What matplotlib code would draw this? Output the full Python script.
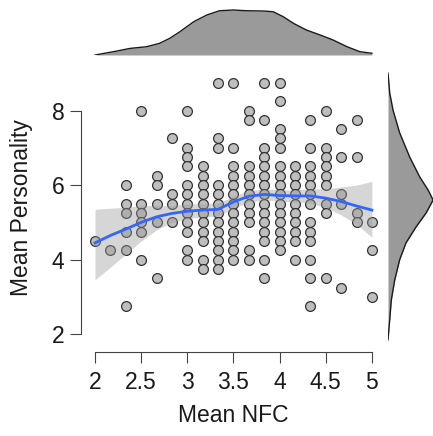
import numpy as np
import matplotlib.pyplot as plt

plt.rcParams['font.family'] = ['Liberation Sans', 'DejaVu Sans']

## NFC means come in sixths, personality means in quarters
nfc_levels = [2, 13/6, 7/3, 2.5, 8/3, 17/6, 3, 19/6, 10/3, 3.5,
              11/3, 23/6, 4, 25/6, 13/3, 4.5, 14/3, 29/6, 5]

personality_by_nfc = [
    [4.5],
    [4.25],
    [6.0, 5.5, 5.25, 4.75, 4.25, 2.75],
    [8.0, 5.5, 5.25, 5.0, 4.75, 4.0],
    [6.25, 6.0, 5.5, 5.0, 3.5],
    [7.25, 5.75, 5.5, 5.0],
    [8.0, 7.0, 6.75, 6.5, 6.0, 5.75, 5.5, 5.25, 5.0, 4.75, 4.25, 4.0],
    [6.5, 6.25, 6.0, 5.75, 5.5, 5.25, 5.0, 4.75, 4.5, 4.0, 3.75],
    [8.75, 7.25, 7.0, 6.0, 5.75, 5.5, 5.25, 5.0, 4.75, 4.5, 4.25, 4.0, 3.75],
    [8.75, 7.0, 6.5, 6.25, 6.0, 5.75, 5.5, 5.25, 5.0, 4.75, 4.5, 4.25, 4.0],
    [8.0, 7.75, 6.5, 6.25, 6.0, 5.75, 5.5, 5.25, 5.0, 4.25, 4.0],
    [8.75, 7.75, 7.0, 6.75, 6.5, 6.25, 6.0, 5.75, 5.5, 5.25, 5.0, 4.75, 4.5, 4.0, 3.5],
    [8.75, 8.25, 7.5, 7.25, 7.0, 6.5, 6.25, 6.0, 5.75, 5.5, 5.25, 5.0, 4.75, 4.5, 4.25],
    [6.5, 6.25, 6.0, 5.75, 5.5, 5.25, 5.0, 4.75, 4.5, 4.0],
    [7.75, 7.0, 6.5, 6.25, 6.0, 5.75, 5.5, 5.0, 4.75, 4.5, 4.0, 3.5, 2.75],
    [8.0, 7.0, 6.75, 6.5, 6.25, 6.0, 5.5, 5.25, 3.5],
    [7.5, 6.75, 5.75, 5.5, 3.25],
    [7.75, 6.75, 5.25, 5.0],
    [5.0, 4.25, 3.0],
]

## loess fit and its 95% band, read at each NFC level
smooth_fit = [4.45, 4.65, 4.82, 5.0, 5.15, 5.24, 5.3, 5.33, 5.35, 5.55,
              5.7, 5.75, 5.72, 5.71, 5.71, 5.65, 5.56, 5.44, 5.33]
smooth_lo = [3.46, 3.8, 4.15, 4.5, 4.8, 5.0, 5.1, 5.15, 5.17, 5.38,
             5.55, 5.6, 5.57, 5.55, 5.52, 5.4, 5.2, 4.95, 4.6]
smooth_hi = [5.35, 5.38, 5.4, 5.45, 5.45, 5.45, 5.5, 5.5, 5.52, 5.7,
             5.85, 5.9, 5.88, 5.87, 5.9, 5.9, 5.95, 6.0, 6.1]

## marginal densities
nfc_dens_x = [2.0, 2.2, 2.38, 2.56, 2.70, 2.81, 2.92, 3.07, 3.21, 3.35, 3.5,
              3.64, 3.82, 3.93, 4.04, 4.15, 4.29, 4.44, 4.58, 4.73, 4.87, 5.0]
nfc_dens = [0.0, 0.05, 0.10, 0.126, 0.177, 0.253, 0.353, 0.505, 0.606, 0.671, 0.682,
            0.671, 0.667, 0.656, 0.58, 0.48, 0.379, 0.303, 0.227, 0.126, 0.05, 0.026]
pers_dens_y = [9.0, 8.47, 8.01, 7.4, 6.75, 6.22, 5.87, 5.6, 5.25, 4.88,
               4.45, 4.0, 3.46, 2.92, 2.39, 1.85]
pers_dens = [0.0, 0.016, 0.047, 0.109, 0.203, 0.296, 0.374, 0.421, 0.355, 0.262,
             0.168, 0.109, 0.063, 0.031, 0.016, 0.0]

xticks = [2, 2.5, 3, 3.5, 4, 4.5, 5]
xticklabels = ['2', '2.5', '3', '3.5', '4', '4.5', '5']
yticks = [2, 4, 6, 8]

W, H = 433, 436
fig = plt.figure(figsize=(W / 100, H / 100), dpi=100)

def box(l, t, r, b):
    return [l / W, 1 - b / H, (r - l) / W, (b - t) / H]

xlim = (1.848, 5.142)
ylim = (1.525, 9.086)

ax = fig.add_axes(box(81, 70, 385, 352))
xs = [x for x, ys in zip(nfc_levels, personality_by_nfc) for _ in ys]
ys = [y for ys_ in personality_by_nfc for y in ys_]
ax.scatter(xs, ys, s=50, c='#bebebe', edgecolors='#333333', linewidths=0.9, zorder=2)
ax.fill_between(nfc_levels, smooth_lo, smooth_hi, color='#999999', alpha=0.4, lw=0, zorder=3)
ax.plot(nfc_levels, smooth_fit, color='#3366FF', lw=2.0, zorder=4)

ax.set_xlim(*xlim)
ax.set_ylim(*ylim)
for s in ['top', 'right']:
    ax.spines[s].set_visible(False)
ax.spines['left'].set_bounds(2, 8)
ax.spines['bottom'].set_bounds(2, 5)
for s in ['left', 'bottom']:
    ax.spines[s].set_color('#444444')
    ax.spines[s].set_linewidth(0.8)
ax.set_xticks(xticks)
ax.set_xticklabels(xticklabels)
ax.set_yticks(yticks)
ax.tick_params(length=8, width=0.8, color='#444444', labelsize=16.5, labelcolor='#1a1a1a')
ax.tick_params(axis='x', pad=6)
ax.tick_params(axis='y', pad=4)

fig.text(233 / W, 1 - 415 / H, 'Mean NFC', ha='center', va='center', fontsize=16.5, color='#1a1a1a')
fig.text(22 / W, 1 - 208 / H, 'Mean Personality', ha='center', va='center',
         rotation=90, fontsize=16.5, color='#1a1a1a')

## top marginal
axt = fig.add_axes(box(81, 5, 385, 55))
axt.fill_between(nfc_dens_x, nfc_dens, color='#9a9a9a', lw=0)
axt.plot(nfc_dens_x, nfc_dens, color='#1a1a1a', lw=1.0)
axt.set_xlim(*xlim)
axt.set_ylim(0, 0.758)
axt.axis('off')

## right marginal
axr = fig.add_axes(box(388, 70, 433, 352))
axr.fill_betweenx(pers_dens_y, pers_dens, color='#9a9a9a', lw=0)
axr.plot(pers_dens, pers_dens_y, color='#1a1a1a', lw=1.0)
axr.set_ylim(*ylim)
axr.set_xlim(0, 0.42)
axr.axis('off')

fig.savefig('out.png', dpi=100)
